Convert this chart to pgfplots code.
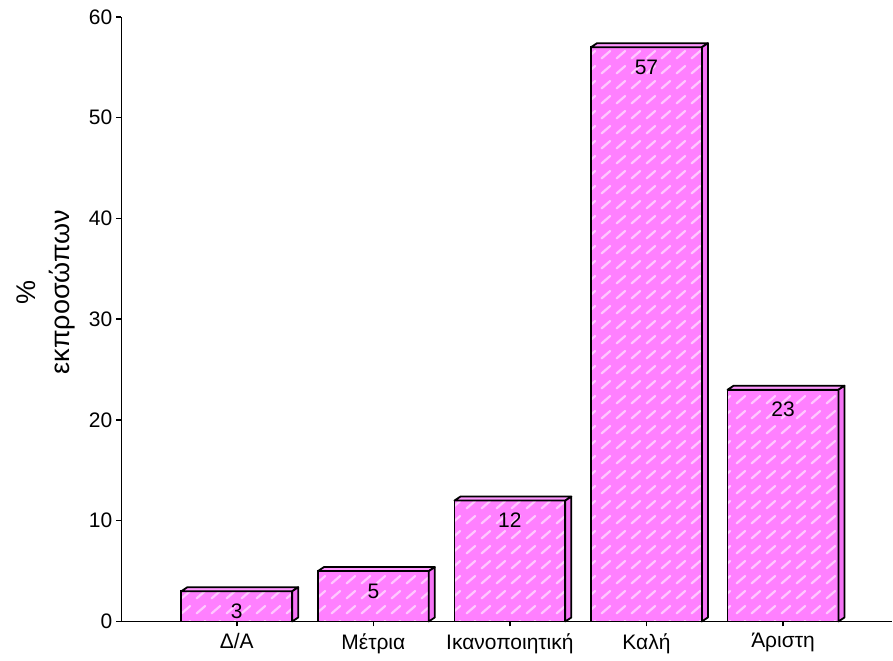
\documentclass[border=0pt]{standalone}
\usepackage{pgfplots}
\pgfplotsset{compat=1.18}
\usepackage{pgfplotstable}
\usepackage{fontspec}
\setmainfont{Liberation Sans}
\usetikzlibrary{patterns}

\definecolor{barfront}{RGB}{255,128,255}
\definecolor{bartop}{RGB}{255,150,255}
\definecolor{barside}{RGB}{245,115,245}
\definecolor{dashcol}{RGB}{255,200,255}

% short diagonal dashes laid over the bar fill
\pgfdeclarepatternformonly{bardashes}{\pgfpointorigin}{\pgfpoint{7.5pt}{7.5pt}}{\pgfpoint{7.5pt}{7.5pt}}{%
  \pgfsetlinewidth{1.1pt}\pgfsetroundcap
  \pgfpathmoveto{\pgfpoint{1.3pt}{1.3pt}}%
  \pgfpathlineto{\pgfpoint{5.6pt}{5pt}}%
  \pgfusepath{stroke}}

% geometry of the bars (half width, depth offsets, pt per data unit)
\def\hw{27.75}
\def\dx{3}
\def\dy{2}
\def\unit{5.041667}

% top and side faces of a bar, drawn at the top centre of its front face
\pgfdeclareplotmark{barfaces}{%
  \pgfmathsetmacro\h{\val*\unit}%
  \pgfsetlinewidth{0.9pt}\pgfsetroundjoin
  \pgfsetstrokecolor{black}%
  \pgfsetfillcolor{bartop}%
  \pgfpathmoveto{\pgfpoint{-\hw pt}{0pt}}%
  \pgfpathlineto{\pgfpoint{\dimexpr-\hw pt+\dx pt\relax}{\dy pt}}%
  \pgfpathlineto{\pgfpoint{\dimexpr\hw pt+\dx pt\relax}{\dy pt}}%
  \pgfpathlineto{\pgfpoint{\hw pt}{0pt}}%
  \pgfpathclose
  \pgfusepath{fill,stroke}%
  \pgfsetfillcolor{barside}%
  \pgfpathmoveto{\pgfpoint{\hw pt}{0pt}}%
  \pgfpathlineto{\pgfpoint{\dimexpr\hw pt+\dx pt\relax}{\dy pt}}%
  \pgfpathlineto{\pgfpoint{\dimexpr\hw pt+\dx pt\relax}{\dimexpr\dy pt-\h pt\relax}}%
  \pgfpathlineto{\pgfpoint{\hw pt}{-\h pt}}%
  \pgfpathclose
  \pgfusepath{fill,stroke}%
}

\pgfplotstableread{
x v
0 3
1 5
2 12
3 57
4 23
}\ratings

\begin{document}
\begin{tikzpicture}[font=\fontsize{10.5}{12.5}\selectfont]
\begin{axis}[
  at={(0,0)}, anchor=south west,
  scale only axis,
  width=385.75pt, height=302.5pt,
  xmin=-0.845, xmax=4.8,
  ymin=0, ymax=60,
  axis x line=bottom, axis y line=left,
  axis line style={-, line width=0.75pt},
  tick style={black, line width=0.75pt},
  tick align=outside,
  major tick length=2.5pt,
  xtick={0,1,2,3,4},
  xticklabels={Δ/Α, Μέτρια, Ικανοποιητική, Καλή, Άριστη},
  ytick={0,10,...,60},
  yticklabel style={xshift=1.5pt},
  /pgf/number format/assume math mode=true,
  ylabel={\%\\εκπροσώπων},
  ylabel style={at={([xshift=-38pt]rel axis cs:0,0.545)}, anchor=center, align=center,
    font=\fontsize{13.5}{17}\selectfont},
  clip=false,
]
\addplot[ybar, bar width=55.5pt, draw=black, line width=0.9pt,
  fill=barfront, postaction={pattern=bardashes, pattern color=dashcol},
  nodes near coords,
  every node near coord/.append style={anchor=center, yshift=-10pt, text=black},
] table[x=x, y=v] {\ratings};
\addplot[only marks, mark=barfaces,
  visualization depends on={\thisrow{v} \as \val},
] table[x=x, y=v] {\ratings};
\end{axis}
\path[use as bounding box] (-60.75pt,-18pt) rectangle (385.75pt,311pt);
\end{tikzpicture}
\end{document}
